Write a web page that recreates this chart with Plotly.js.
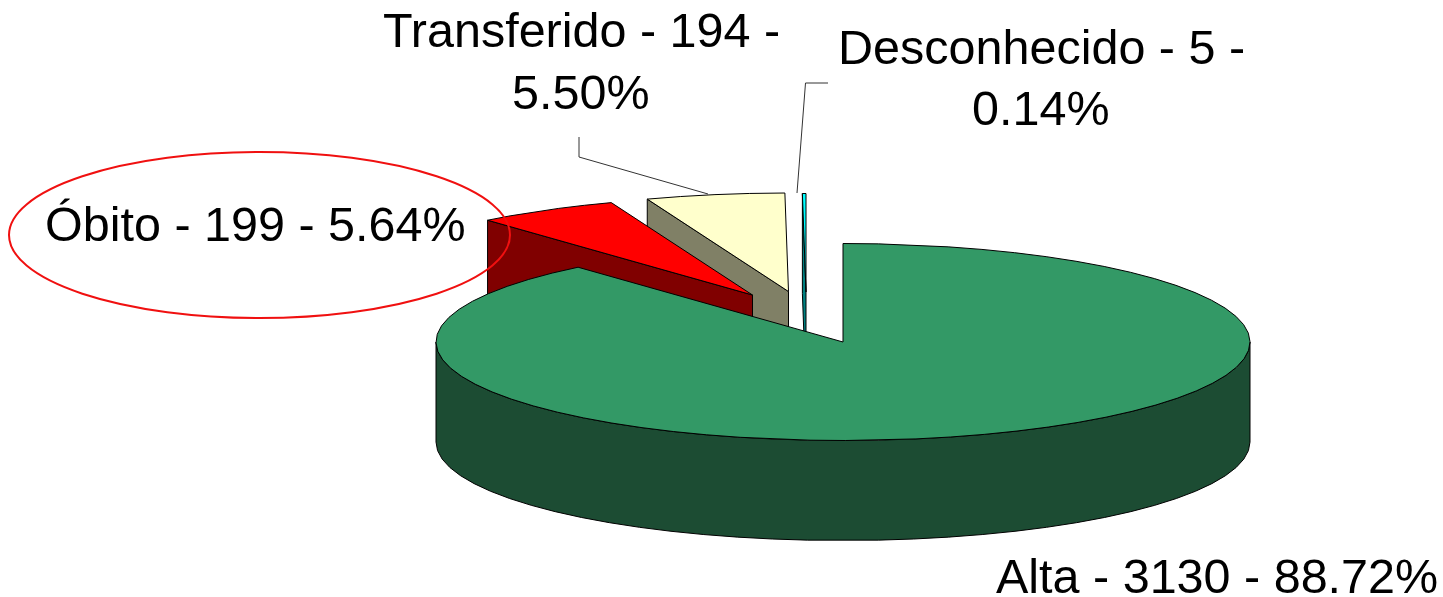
<!DOCTYPE html>
<html>
<head>
<meta charset="utf-8">
<script src="https://cdn.plot.ly/plotly-3.0.1.min.js"></script>
<style>html,body{margin:0;padding:0;background:#fff}#chart{width:1443px;height:597px}</style>
</head>
<body>
<div id="chart"></div>
<script>
// Data, clockwise from 12 o'clock
const categories = ['Alta', 'Óbito', 'Transferido', 'Desconhecido'];
const counts = [3130, 199, 194, 5];
const percents = ['88.72%', '5.64%', '5.50%', '0.14%'];

// Colours
const topColors = ['#339966', '#FF0000', '#FFFFCC', '#00FFFF'];
const wallColors = ['#1C4C33', '#800000', '#808066', '#008080'];

// Pie projection
const RX = 407, RY = 98.5, DEPTH = 100, STEP = 5;
const apexX = [843, 752.5, 788.5, 806];
const apexY = [342, 295, 291.5, 292];

const total = counts.reduce((a, b) => a + b, 0);
let cum = 0;
const spans = counts.map(c => { const s = cum; cum += c; return [s / total * 360, cum / total * 360]; });

const rad = d => d * Math.PI / 180;
const pt = (i, deg, dz) => [apexX[i] + RX * Math.sin(rad(deg)), apexY[i] - RY * Math.cos(rad(deg)) + (dz || 0)];
function arc(i, a0, a1, dz) {
  const out = [];
  const n = Math.max(1, Math.ceil((a1 - a0) / STEP));
  for (let k = 0; k <= n; k++) out.push(pt(i, a0 + (a1 - a0) * k / n, dz));
  return out;
}
function poly(points, fill, name) {
  const closed = points.concat([points[0]]);
  return {
    type: 'scatter', mode: 'lines', name: name, fill: 'toself', fillcolor: fill,
    x: closed.map(p => p[0]), y: closed.map(p => p[1]),
    line: { color: '#000000', width: 1 }, hoverinfo: 'name', showlegend: false
  };
}
const topFace = i => poly([[apexX[i], apexY[i]]].concat(arc(i, spans[i][0], spans[i][1])), topColors[i], categories[i]);
const startWall = i => {
  const a = spans[i][0];
  return poly([pt(i, a), [apexX[i], apexY[i]], [apexX[i], apexY[i] + DEPTH], pt(i, a, DEPTH)], wallColors[i], categories[i]);
};
const rimWall = i => poly(arc(i, 90, 270).concat(arc(i, 90, 270, DEPTH).reverse()), wallColors[i], categories[i]);

const traces = [
  startWall(2), topFace(2),
  startWall(3), topFace(3),
  startWall(1), topFace(1),
  rimWall(0), topFace(0)
];

const FONT = { family: '"Liberation Sans", Arial, sans-serif', size: 48.5, color: '#000000' };
const lbl = (text, x, y) => ({ text, x, y, xref: 'x', yref: 'y', showarrow: false, xanchor: 'center', yanchor: 'middle', font: FONT });
const full = i => categories[i] + ' - ' + counts[i] + ' - ' + percents[i];
const head = i => categories[i] + ' - ' + counts[i] + ' -';

const layout = {
  width: 1443, height: 597,
  margin: { l: 0, r: 0, t: 0, b: 0 },
  paper_bgcolor: '#ffffff', plot_bgcolor: '#ffffff',
  showlegend: false,
  xaxis: { range: [0, 1443], visible: false, fixedrange: true },
  yaxis: { range: [597, 0], visible: false, fixedrange: true },
  annotations: [
    lbl(full(0), 1217, 576),
    lbl(full(1), 255, 224),
    lbl(head(2), 581, 30),
    lbl(percents[2], 581, 92),
    lbl(head(3), 1041, 47),
    lbl(percents[3], 1041, 108)
  ],
  shapes: [
    { type: 'circle', xref: 'x', yref: 'y', x0: 9, x1: 510, y0: 152, y1: 318, line: { color: '#F01010', width: 2 } },
    { type: 'path', xref: 'x', yref: 'y', path: 'M579,137 L579,157 L708,194', line: { color: '#333333', width: 1 } },
    { type: 'path', xref: 'x', yref: 'y', path: 'M828,83 L805.5,83 L797,193', line: { color: '#333333', width: 1 } }
  ]
};
Plotly.newPlot('chart', traces, layout, { displayModeBar: false, staticPlot: true });
</script>
</body>
</html>
